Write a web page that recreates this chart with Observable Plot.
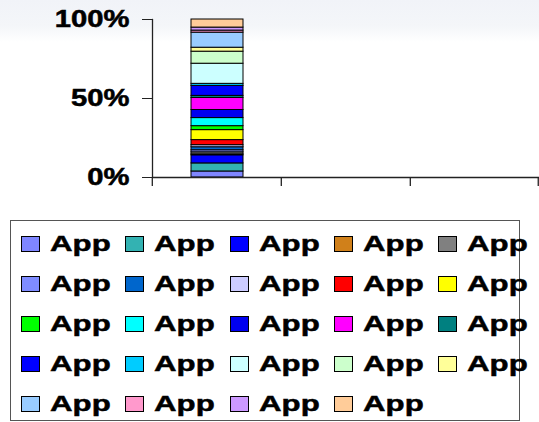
<!DOCTYPE html>
<html>
<head>
<meta charset="utf-8">
<script src="https://cdn.jsdelivr.net/npm/d3@7"></script>
<script src="https://cdn.jsdelivr.net/npm/@observablehq/plot@0.6"></script>
<style>
  html, body { margin: 0; padding: 0; }
  body {
    width: 539px; height: 422px; overflow: hidden; position: relative;
    background: linear-gradient(to bottom, #f1f3f8 0px, #f4f6f9 26px, #ffffff 42px);
    font-family: "Liberation Sans", Arial, sans-serif;
  }
  #chart { position: absolute; left: 0; top: 0; }
  #legend {
    position: absolute; left: 10px; top: 220px; width: 510px; height: 201px;
    box-sizing: border-box; border: 1px solid #555; background: #fff;
  }
  .item { position: absolute; }
  .sw { position: absolute; left: 0; top: 0; width: 19px; height: 16px; box-sizing: border-box; border: 1px solid #000; }
  .lb { position: absolute; left: 29px; top: -3.5px; font-size: 22px; font-weight: bold; line-height: 22px; color: #000;
        -webkit-text-stroke: 0.45px #000;
        transform: scaleX(1.42); transform-origin: left center; white-space: nowrap; }
</style>
</head>
<body>
<div id="chart"></div>
<div id="legend"></div>
<script>
// ---- data ----
const categories = ["A", "B", "C"];
const seriesNames = ["App","App","App","App","App","App","App","App","App","App","App","App",
                     "App","App","App","App","App","App","App","App","App","App","App","App"];
const seriesColors = ["#7f86ff","#33b2b2","#0000ff","#d0801a","#808080","#7f8cff","#0066cc","#ccccff",
                      "#ff0000","#ffff00","#00ff00","#00ffff","#0000f0","#ff00ff","#008080","#0000ff",
                      "#00ccff","#ccffff","#ccffcc","#ffff99","#99ccff","#ff99cc","#cc99ff","#ffcc99"];
// values of each series in category A (shares, in %)
const seriesValues = [3.8, 5.1, 5.1, 0.6, 1.3, 1.3, 1.9, 1.3, 3.2, 6.3, 2.5, 5.1,
                      5.1, 7.6, 1.3, 6.3, 1.3, 12.7, 7.6, 2.5, 9.5, 1.3, 1.9, 5.1];
const yTicks = [0, 0.5, 1];

const rows = seriesValues.map((v, i) => ({cat: categories[0], key: i, value: v}));
const keys = seriesValues.map((v, i) => i);

const padInner = 0.6, padOuter = 0.3;

const boundaryTicks = (index, scales, values, dimensions) => {
  const x = scales.x;
  const step = x(categories[1]) - x(categories[0]);
  const xs = categories.map(c => x(c) - step * padOuter);
  xs.push(xs[xs.length - 1] + step);
  const y0 = scales.y(0);
  const g = d3.create("svg:g");
  g.selectAll("line").data(xs).join("line")
    .attr("x1", d => Math.min(d, dimensions.width - 0.75)).attr("x2", d => Math.min(d, dimensions.width - 0.75))
    .attr("y1", y0).attr("y2", y0 + 9)
    .attr("stroke", "#222").attr("stroke-width", 1.3);
  return g.node();
};

const chart = Plot.plot({
  width: 539,
  height: 200,
  marginLeft: 152,
  marginRight: 0,
  marginTop: 19,
  marginBottom: 23,
  style: {background: "transparent", fontFamily: "Liberation Sans, Arial, sans-serif", overflow: "visible"},
  x: {domain: categories, paddingInner: padInner, paddingOuter: padOuter, axis: null},
  y: {domain: [0, 1]},
  color: {type: "ordinal", domain: keys, range: seriesColors},
  marks: [
    Plot.barY(rows, Plot.stackY({offset: "normalize", order: null}, {
      x: "cat", y: "value", fill: "key", stroke: "#000", strokeWidth: 1, inset: 0
    })),
    Plot.axisY({ticks: yTicks, tickFormat: d3.format(".0%"), tickSize: 10, tickPadding: 13,
                fontSize: 23, fontWeight: "bold", label: null, stroke: "#222", color: "#000"}),
    Plot.frame({anchor: "left", stroke: "#222", strokeWidth: 1.3}),
    Plot.ruleY([0], {stroke: "#222", strokeWidth: 1.3}),
    boundaryTicks
  ]
});
document.getElementById("chart").appendChild(chart);

// stretch y tick labels horizontally like the reference
d3.select(chart).selectAll('g[aria-label="y-axis tick label"] text').each(function() {
  const t = this.getAttribute("transform");
  if (t) {
    this.setAttribute("transform", t + " scale(1.27,1)");
  } else {
    const xx = this.getAttribute("x") || 0, yy = this.getAttribute("y") || 0;
    this.removeAttribute("x"); this.removeAttribute("y");
    this.setAttribute("transform", `translate(${xx},${yy}) scale(1.27,1)`);
  }
  this.setAttribute("stroke", "#000");
  this.setAttribute("stroke-width", "0.5");
});

// legend
const legend = d3.select("#legend");
const nCols = 5;
seriesNames.forEach((name, i) => {
  const r = Math.floor(i / nCols), c = i % nCols;
  const item = legend.append("div").attr("class", "item")
    .style("left", (10 + c * 104.3) + "px")
    .style("top", (15 + r * 40) + "px");
  item.append("span").attr("class", "sw").style("background", seriesColors[i]);
  item.append("span").attr("class", "lb").text(name);
});
</script>
</body>
</html>
